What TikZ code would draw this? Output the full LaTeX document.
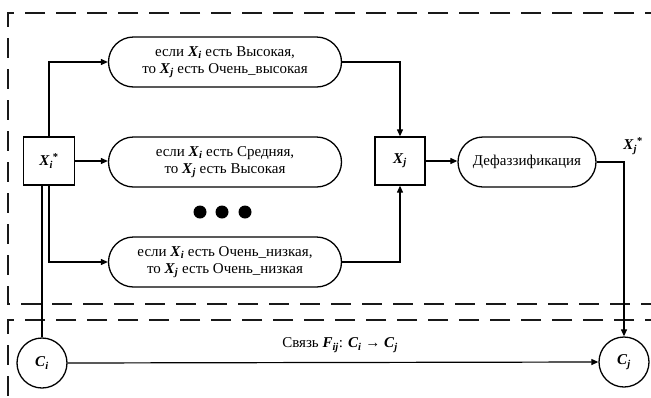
\documentclass[tikz,border=0pt]{standalone}
\usepackage{fontspec}
\setmainfont{Liberation Serif}
\usetikzlibrary{shapes.misc,arrows.meta,calc}
\newcommand{\bv}[2]{\textbf{\textit{#1}}\textsubscript{\textbf{\textit{#2}}}}
\begin{document}
\begin{tikzpicture}[x=1pt,y=-1pt,
  every node/.style={font=\fontsize{15}{17}\selectfont, inner sep=0pt},
  rulebox/.style={draw, line width=1.3pt, rounded rectangle, minimum width=233pt, minimum height=50pt, align=center},
  sqbox/.style={draw, line width=1.3pt, minimum width=51pt, minimum height=48pt},
  circ/.style={draw, line width=1.3pt, circle, minimum size=50pt},
  conn/.style={line width=1.2pt, -{Triangle[length=7pt,width=6pt]}},
  plain/.style={line width=1.2pt},
  frame/.style={line width=1.4pt, dash pattern=on 20pt off 11pt, gray!20!black}
]
\useasboundingbox (0,0) rectangle (651,397);
% frames
\draw[frame] (665,13) -- (8,13) -- (8,304) -- (665,304);
\draw[frame] (665,320) -- (8,320) -- (8,410);
% nodes
\node[sqbox] (xi) at (49,161) {\bv{X}{i}\textsuperscript{\textbf{*}}};
\node[rulebox] (r1) at (225,62) {если \bv{X}{i} есть Высокая,\\то \bv{X}{j} есть Очень\_высокая};
\node[rulebox] (r2) at (225,162) {если \bv{X}{i} есть Средняя,\\то \bv{X}{j} есть Высокая};
\node[rulebox] (r3) at (225,262) {если \bv{X}{i} есть Очень\_низкая,\\то \bv{X}{j} есть Очень\_низкая};
\node[sqbox, minimum width=50pt] (xj) at (400,161) {\bv{X}{j}};
\node[rulebox, minimum width=138pt] (df) at (527,162) {Дефаззификация};
\node[circ] (ci) at (42,363) {\bv{C}{i}};
\node[circ] (cj) at (624,362) {\bv{C}{j}};
\node (xjs) at (633,146) {\bv{X}{j}\textsuperscript{\textbf{*}}};
\node (lbl) at (340,345) {Связь \bv{F}{ij}: \bv{C}{i} \textbf{→} \bv{C}{j}};
% dots
\foreach \dx in {200,222,245} \fill (\dx,212) circle (6.5pt);
% connectors
\draw[conn] (xi.north) |- (r1.west);
\draw[conn] (xi.east) -- (xi.east -| r2.west);
\draw[conn] (xi.south) |- (r3.west);
\draw[plain] (ci.north) -- (ci.north |- xi.south);
\draw[conn] (r1.east) -| (xj.north);
\draw[conn] (r3.east) -| (xj.south);
\draw[conn] (xj.east) -- (xj.east -| df.west);
\draw[conn] (df.east) -| (cj.north);
\draw[conn] (ci.east) -- (cj.west);
\end{tikzpicture}
\end{document}
